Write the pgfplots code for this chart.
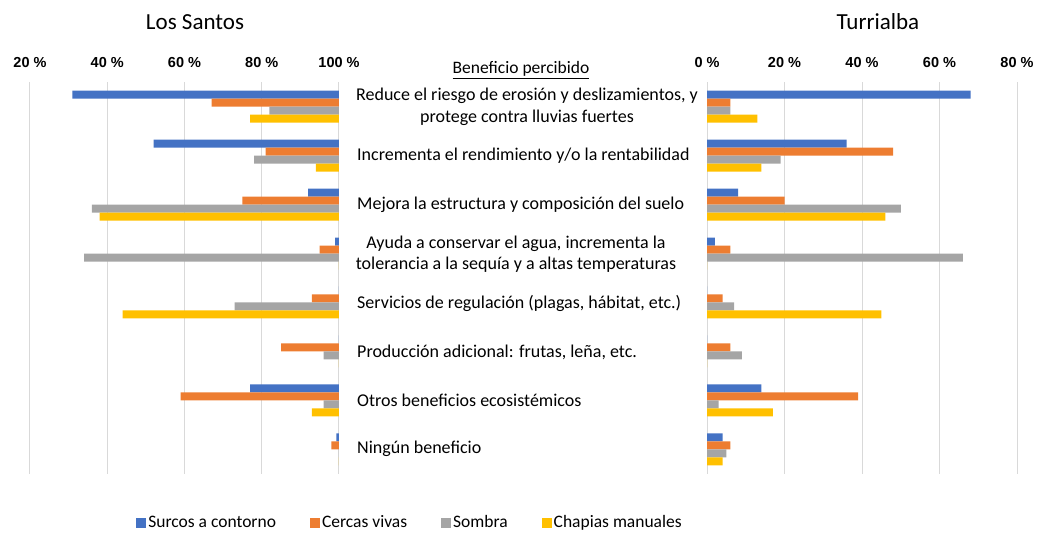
\documentclass[border=0pt]{standalone}
\usepackage{fontspec}
\setmainfont{Carlito}
\newfontfamily\arialf{Liberation Sans}
\usepackage{pgfplots}
\usepackage{pgfplotstable}
\pgfplotsset{compat=1.18}
\definecolor{cblue}{HTML}{4472C4}
\definecolor{corange}{HTML}{ED7D31}
\definecolor{cgray}{HTML}{A5A5A5}
\definecolor{cyellow}{HTML}{FFC000}
\definecolor{cgrid}{HTML}{D9D9D9}

% y: 7 = first benefit (top) ... 0 = last
\pgfplotstableread{
y  s    c   o   h
7  69   33  18  23
6  48   19  22  6
5  8    25  64  62
4  1    5   66  0
3  0    7   27  56
2  0    15  4   0
1  23   41  4   7
0  0.7  2   0   0
}\lossantos
\pgfplotstableread{
y  s   c   o   h
7  68  6   6   13
6  36  48  19  14
5  8   20  50  46
4  2   6   66  0
3  0   4   7   45
2  0   6   9   0
1  14  39  3   17
0  4   6   5   4
}\turrialba

\pgfplotsset{
  bfly/.style={
    scale only axis, height=392pt,
    xbar, bar width=8pt,
    xmin=0, xmax=80, ymin=-0.5, ymax=7.5,
    ytick=\empty,
    xtick={0,20,40,60,80},
    xticklabel pos=upper,
    axis line style={draw=none},
    major tick style={draw=none},
    xmajorgrids,
    grid style={draw=cgrid, line width=1pt},
    xticklabel style={font=\arialf\bfseries\fontsize{14.5}{16}\selectfont, yshift=11pt},
    clip=false,
  },
  sq/.style={draw=none, fill=#1,
    legend image code/.code={\fill[#1] (0pt,-5pt) rectangle (10pt,5pt);}},
}

\begin{document}
\begin{tikzpicture}
\clip (0pt,0pt) rectangle (1037pt,-533pt);
\path[use as bounding box] (0pt,0pt) rectangle (1037pt,-533pt);

\begin{axis}[bfly, at={(30pt,-82pt)}, anchor=north west, width=309pt,
  x dir=reverse,
  xticklabels={100 \%,80 \%,60 \%,40 \%,20 \%},
  legend columns=4,
  legend style={at={(1.23,-0.124)}, anchor=center, draw=none, fill=none,
    font=\fontsize{17.5}{20}\selectfont,
    /tikz/every even column/.append style={column sep=32pt}},
  ]
\addplot[sq=cblue, bar shift=12pt] table[x=s,y=y]{\lossantos};
\addplot[sq=corange, bar shift=4pt] table[x=c,y=y]{\lossantos};
\addplot[sq=cgray, bar shift=-4pt] table[x=o,y=y]{\lossantos};
\addplot[sq=cyellow, bar shift=-12pt] table[x=h,y=y]{\lossantos};
\legend{Surcos a contorno, Cercas vivas, Sombra, Chapias manuales}
\end{axis}

\begin{axis}[bfly, at={(707pt,-82pt)}, anchor=north west, width=310pt,
  xticklabels={0 \%,20 \%,40 \%,60 \%,80 \%},
  ]
\addplot[sq=cblue, bar shift=12pt] table[x=s,y=y]{\turrialba};
\addplot[sq=corange, bar shift=4pt] table[x=c,y=y]{\turrialba};
\addplot[sq=cgray, bar shift=-4pt] table[x=o,y=y]{\turrialba};
\addplot[sq=cyellow, bar shift=-12pt] table[x=h,y=y]{\turrialba};
\end{axis}

\node[font=\fontsize{23}{26}\selectfont] at (195pt,-22pt) {Los Santos};
\node[font=\fontsize{23}{26}\selectfont] at (878pt,-22pt) {Turrialba};
\node[font=\fontsize{17.5}{20}\selectfont] at (521pt,-70pt) {\underline{Beneficio percibido}};

\begin{scope}[every node/.style={font=\fontsize{18}{21.5}\selectfont}]
\node[align=center] at (527pt,-107pt) {Reduce el riesgo de erosión y deslizamientos, y\\protege contra lluvias fuertes};
\node[anchor=west, inner xsep=0pt] at (357pt,-156pt) {Incrementa el rendimiento y/o la rentabilidad};
\node[anchor=west, inner xsep=0pt] at (357pt,-205pt) {Mejora la estructura y composición del suelo};
\node[align=center] at (516pt,-254pt) {Ayuda a conservar el agua, incrementa la\\tolerancia a la sequía y a altas temperaturas};
\node[anchor=west, inner xsep=0pt] at (357pt,-303pt) {Servicios de regulación (plagas, hábitat, etc.)};
\node[anchor=west, inner xsep=0pt] at (357pt,-352pt) {Producción adicional: frutas, leña, etc.};
\node[anchor=west, inner xsep=0pt] at (357pt,-400pt) {Otros beneficios ecosistémicos};
\node[anchor=west, inner xsep=0pt] at (357pt,-449pt) {Ningún beneficio};
\end{scope}
\end{tikzpicture}
\end{document}
